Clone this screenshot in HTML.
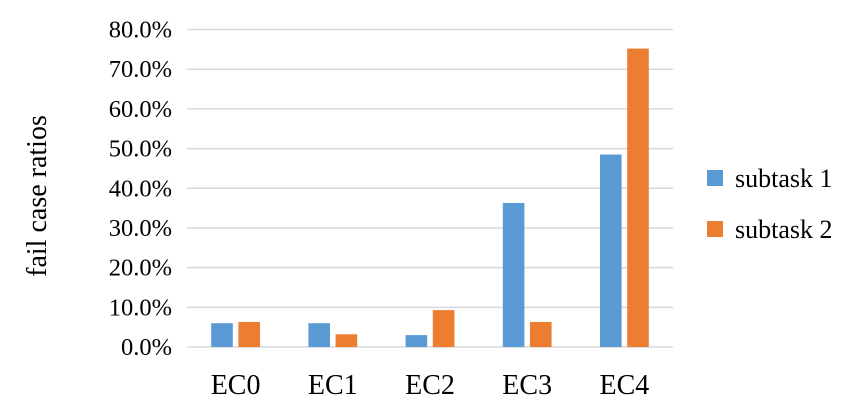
<!DOCTYPE html>
<html><head><meta charset="utf-8"><style>
body{margin:0;background:#fff;}
svg{display:block;font-family:"Liberation Serif",serif;}
</style></head><body>
<svg id="chart" width="850" height="401" viewBox="0 0 850 401" xmlns="http://www.w3.org/2000/svg">
<g id="grid"></g>
<g id="yticks"></g>
<g id="bars"></g>
<g id="xticks"></g>
<text transform="translate(46,196) rotate(-90)" text-anchor="middle" font-size="28" fill="#000">fail case ratios</text>
<g>
<g><rect x="707" y="170" width="16" height="16" fill="#5b9bd5"/><text x="735" y="187" font-size="26">subtask 1</text></g>
<g><rect x="707" y="221" width="16" height="16" fill="#ed7d31"/><text x="735" y="238" font-size="26">subtask 2</text></g>
</g>
</svg>
<script>
const categories=["EC0","EC1","EC2","EC3","EC4"];
const subtask1=[6.0,6.0,3.0,36.3,48.5];
const subtask2=[6.3,3.2,9.3,6.3,75.2];
const yTicks=[0,10,20,30,40,50,60,70,80];
const yTickLabels=["0.0%","10.0%","20.0%","30.0%","40.0%","50.0%","60.0%","70.0%","80.0%"];
const NS="http://www.w3.org/2000/svg";
const x0=187,x1=673,y0=347,yTop=29.5,ymax=80;
const y=v=>y0-(v/ymax)*(y0-yTop);
const bw=(x1-x0)/categories.length;
function mk(tag,attrs,parent){const e=document.createElementNS(NS,tag);for(const k in attrs)e.setAttribute(k,attrs[k]);parent.appendChild(e);return e;}
const grid=document.getElementById('grid'),yt=document.getElementById('yticks'),bars=document.getElementById('bars'),xt=document.getElementById('xticks');
yTicks.forEach((v,i)=>{
 const l=mk('line',{x1:x0,x2:x1,y1:y(v),y2:y(v),stroke:'#d9d9d9','stroke-width':1.5},grid);
 
 
 const t=mk('text',{x:172,y:y(v)+8,'text-anchor':'end','font-size':24.5},yt);
 t.textContent=yTickLabels[i];
 
 
});
const barW=21.6,gap=5.6;
categories.forEach((c,i)=>{
 const cx=x0+bw*(i+0.5);
 const b1=mk('rect',{x:cx-gap/2-barW,y:y(subtask1[i]),width:barW,height:y0-y(subtask1[i]),fill:'#5b9bd5'},bars);
 
 
 const b2=mk('rect',{x:cx+gap/2,y:y(subtask2[i]),width:barW,height:y0-y(subtask2[i]),fill:'#ed7d31'},bars);
 
 
 const t=mk('text',{x:cx,y:394,'text-anchor':'middle','font-size':28},xt);
 t.textContent=c;
 
 
});
</script>
</body></html>
